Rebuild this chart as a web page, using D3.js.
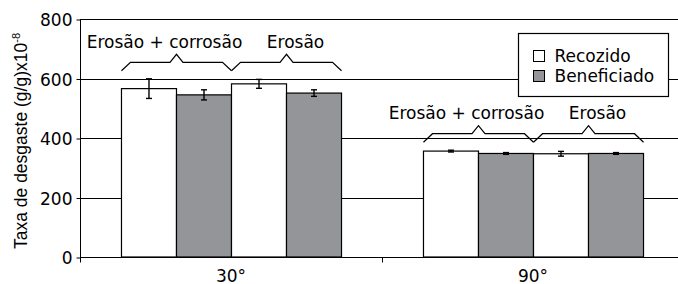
<!DOCTYPE html>
<html>
<head>
<meta charset="utf-8">
<script src="https://cdn.jsdelivr.net/npm/d3@7"></script>
<style>
  body { margin: 0; background: #fff; }
  svg { display: block; }
</style>
</head>
<body>
<div id="chart"></div>
<script>
let width = 678
let height = 284
let fontFamily = "DejaVu Sans"

// data
let categories = ['30°', '90°']
let series = ['Recozido', 'Beneficiado']
let conditions = ['Erosão + corrosão', 'Erosão']
// order inside a category: [cond0-Recozido, cond0-Beneficiado, cond1-Recozido, cond1-Beneficiado]
let values30 = [566, 545, 582, 551]
let errors30 = [33, 17, 15, 11]
let values90 = [356, 348, 347, 348]
let errors90 = [3, 3, 8, 3]
let yTicks = [0, 200, 400, 600, 800]

let colors = { 'Recozido': '#ffffff', 'Beneficiado': '#939598' }

let bars = []
let allValues = [values30, values90]
let allErrors = [errors30, errors90]
categories.forEach((c, ci) => {
    conditions.forEach((cond, k) => {
        series.forEach((s, si) => {
            let idx = k * 2 + si
            bars.push({ cat: c, cond: cond, series: s, key: idx, value: allValues[ci][idx], err: allErrors[ci][idx] })
        })
    })
})

let svg = d3.select('#chart').append('svg')
    .attr('width', width)
    .attr('height', height)
    .style('font-family', fontFamily)

let x0 = d3.scaleBand().domain(categories).range([80, 684]).padding(0)
let x1 = d3.scaleBand().domain([0, 1, 2, 3]).range([0, x0.bandwidth()]).paddingInner(0).paddingOuter(0.745)
let y = d3.scaleLinear().domain([0, 800]).range([257, 19])

// gridlines
svg.append('g')
    .selectAll('line')
    .data(yTicks.filter(d => d > 0))
    .join('line')
    .attr('x1', 80).attr('x2', width)
    .attr('y1', d => Math.round(y(d)) + 0.5).attr('y2', d => Math.round(y(d)) + 0.5)
    .attr('stroke', '#000').attr('stroke-width', 1)

// y axis
let yAxis = svg.append('g')
    .attr('transform', 'translate(80.5,0.5)')
    .call(d3.axisLeft(y).tickValues(yTicks).tickSize(4).tickSizeOuter(0))
yAxis.select('.domain').attr('d', 'M0,' + (y(800) - 0.5) + 'V' + (y(0) + 4))
yAxis.selectAll('text').attr('font-size', 17).attr('font-family', fontFamily).attr('fill', '#000').attr('x', -8).attr('dy', '0.36em')

// bars
svg.append('g')
    .selectAll('rect')
    .data(bars)
    .join('rect')
    .attr('x', d => x0(d.cat) + x1(d.key) + 0.5)
    .attr('y', d => y(d.value))
    .attr('width', x1.bandwidth())
    .attr('height', d => y(0) - y(d.value))
    .attr('fill', d => colors[d.series])
    .attr('stroke', '#000')
    .attr('stroke-width', 1.2)

// error bars
let eb = svg.append('g').attr('stroke', '#000').attr('stroke-width', 1.4)
bars.forEach(d => {
    let cx = x0(d.cat) + x1(d.key) + x1.bandwidth() / 2 + 0.5
    eb.append('line').attr('x1', cx).attr('x2', cx).attr('y1', y(d.value + d.err)).attr('y2', y(d.value - d.err))
    eb.append('line').attr('x1', cx - 3).attr('x2', cx + 3).attr('y1', y(d.value + d.err)).attr('y2', y(d.value + d.err))
    eb.append('line').attr('x1', cx - 3).attr('x2', cx + 3).attr('y1', y(d.value - d.err)).attr('y2', y(d.value - d.err))
})

// x axis
let xAxis = svg.append('g')
    .attr('transform', 'translate(0,' + (Math.round(y(0)) + 0.5) + ')')
xAxis.append('line').attr('x1', 80).attr('x2', width).attr('stroke', '#000')
xAxis.selectAll('.tk')
    .data([80, 80 + x0.bandwidth(), 80 + 2 * x0.bandwidth()])
    .join('line')
    .attr('x1', d => d + 0.5).attr('x2', d => d + 0.5)
    .attr('y1', 0).attr('y2', 5)
    .attr('stroke', '#000')
xAxis.selectAll('text')
    .data(categories)
    .join('text')
    .attr('x', d => x0(d) + x0.bandwidth() / 2)
    .attr('y', 24)
    .attr('text-anchor', 'middle')
    .attr('font-size', 17)
    .text(d => d)

// braces + condition labels
function bracePath(xa, xb, yb) {
    let mid = (xa + xb) / 2
    return 'M' + xa + ',' + yb + 'L' + (xa + 9) + ',' + (yb - 8.5) + 'L' + (mid - 6.5) + ',' + (yb - 8.5) +
        'L' + mid + ',' + (yb - 16.5) + 'L' + (mid + 6.5) + ',' + (yb - 8.5) + 'L' + (xb - 9) + ',' + (yb - 8.5) + 'L' + xb + ',' + yb
}
let labelShift = [-12, 9]
categories.forEach(c => {
    let cb = bars.filter(d => d.cat === c)
    let top = d3.min(cb, d => y(d.value + d.err))
    let yb = top - 8
    conditions.forEach((cond, k) => {
        let xa = x0(c) + x1(k * 2) + 0.5
        let xb = x0(c) + x1(k * 2 + 1) + x1.bandwidth() + 0.5
        svg.append('path')
            .attr('d', bracePath(xa, xb, yb))
            .attr('fill', 'none')
            .attr('stroke', '#000')
            .attr('stroke-width', 1.2)
        svg.append('text')
            .attr('x', (xa + xb) / 2 + labelShift[k])
            .attr('y', yb - 23)
            .attr('text-anchor', 'middle')
            .attr('font-size', 17)
            .text(cond)
    })
})

// legend
let legend = svg.append('g').attr('transform', 'translate(518.5,33.5)')
legend.append('rect').attr('width', 150).attr('height', 63).attr('fill', '#fff').attr('stroke', '#000').attr('stroke-width', 1.2)
series.forEach((s, i) => {
    legend.append('rect')
        .attr('x', 15).attr('y', 17 + i * 20)
        .attr('width', 11).attr('height', 11)
        .attr('fill', colors[s]).attr('stroke', '#000').attr('stroke-width', 1)
    legend.append('text')
        .attr('x', 36).attr('y', 28 + i * 20)
        .attr('font-size', 17)
        .text(s)
})

// y label
let yl = svg.append('text')
    .attr('transform', 'translate(27,' + 141 + ') rotate(-90)')
    .attr('text-anchor', 'middle')
    .attr('font-family', 'Liberation Sans')
    .attr('font-size', 17.5)
yl.append('tspan').text('Taxa de desgaste (g/g)x10')
yl.append('tspan').attr('font-size', 11).attr('dy', -7).text('-8')
</script>
</body>
</html>
